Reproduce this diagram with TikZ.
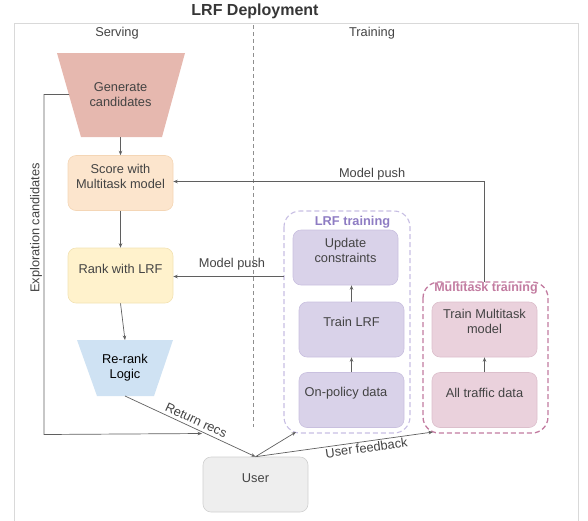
\documentclass[tikz,border=0pt]{standalone}
\usepackage{fontspec}
\setmainfont{Liberation Sans}
\usetikzlibrary{arrows.meta,calc}
\definecolor{txt}{HTML}{434343}
\definecolor{ln}{HTML}{5F5F5F}
\definecolor{frame}{HTML}{D9D9D9}
\definecolor{genfill}{HTML}{E6B8AF}
\definecolor{scorefill}{HTML}{FCE5CD}
\definecolor{scoreline}{HTML}{F4D6B6}
\definecolor{rankfill}{HTML}{FFF2CC}
\definecolor{rankline}{HTML}{F2E2B3}
\definecolor{rerankfill}{HTML}{CFE2F3}
\definecolor{lrffill}{HTML}{D9D2E9}
\definecolor{lrfline}{HTML}{C9C0DF}
\definecolor{lrfdash}{HTML}{C7BEE3}
\definecolor{lrflabel}{HTML}{8E7CC3}
\definecolor{mtfill}{HTML}{EAD1DC}
\definecolor{mtline}{HTML}{DCBFCC}
\definecolor{mtdash}{HTML}{C27BA0}
\definecolor{userfill}{HTML}{EEEEEE}
\definecolor{userline}{HTML}{D0D0D0}
\tikzset{
  box/.style={rounded corners=8pt, minimum width=105pt, minimum height=55pt, line width=0.6pt, inner sep=0pt},
  lbl/.style={font=\fontsize{12.8}{15}\selectfont, text=txt, align=center, inner sep=0pt},
  arr/.style={draw=ln, line width=0.7pt, -{Stealth[length=4.5pt,width=3.5pt]}},
  plain/.style={draw=ln, line width=0.7pt},
  edgelbl/.style={font=\fontsize{12.8}{15}\selectfont, text=txt, inner sep=1.5pt},
}
\begin{document}
\begin{tikzpicture}[x=1pt,y=-1pt]
\useasboundingbox (0,0) rectangle (588,520);
% frame
\draw[frame, line width=1pt] (14,530) -- (14,23) -- (578,23) -- (578,530);
\node[font=\fontsize{16}{19}\selectfont\bfseries, text=txt!80!black] (title) at (255,11) {LRF Deployment};
\node[lbl] (serving) at (117,33) {Serving};
\node[lbl] (training) at (372,33) {Training};
% divider
\coordinate (divT) at (253,25);
\coordinate (divB) at (253,427);
\draw[ln!70, line width=0.7pt, dash pattern=on 4pt off 3pt] (divT) -- (divB);

% Generate candidates (trapezoid)
\fill[genfill] (57,53) -- (185,53) -- (162,137) -- (81,137) -- cycle;
\node[lbl] (gen) at (120.5,95) {Generate\\candidates};
\coordinate (genB) at (120.5,137);
\coordinate (genL) at (69,94.5);

% Score
\node[box, fill=scorefill, draw=scoreline] (score) at (120.5,183) {};
\node[lbl] (scoret) at (120.5,176) {Score with\\Multitask model};
% Rank
\node[box, fill=rankfill, draw=rankline] (rank) at (120.5,275.5) {};
\node[lbl] (rankt) at (120.5,268.5) {Rank with LRF};
% Re-rank logic
\fill[rerankfill] (77,340) -- (173,340) -- (154,396) -- (97,396) -- cycle;
\node[lbl, text=black] (rerank) at (125,368) {Re-rank\\Logic};
\coordinate (rerankT) at (125,340);
\coordinate (rerankB) at (125,396);

% User
\node[box, fill=userfill, draw=userline] (user) at (255.5,484.5) {};
\node[lbl] (usert) at (255.5,478) {User};

% LRF training group
\draw[lrfdash, line width=1.1pt, dash pattern=on 5pt off 3pt, rounded corners=16pt] (284,211) rectangle (410,433);
\node[coordinate] (lrfL) at (284,276.5) {};
\node[coordinate] (lrfB) at (296,432) {};
\node[font=\fontsize{12.8}{15}\selectfont\bfseries, text=lrflabel] (lrflbl) at (352.5,222) {LRF training};
\node[box, fill=lrffill, draw=lrfline] (upd) at (345.5,257.5) {};
\node[lbl] (updt) at (345.5,250.5) {Update\\constraints};
\node[box, fill=lrffill, draw=lrfline] (trlrf) at (351.5,329.5) {};
\node[lbl] (trlrft) at (351.5,322) {Train LRF};
\node[box, fill=lrffill, draw=lrfline] (onp) at (351.5,400) {};
\node[lbl] (onpt) at (346,393) {On-policy data};

% Multitask training group
\draw[mtdash, line width=1.3pt, dash pattern=on 5pt off 3pt, rounded corners=16pt] (423,282) rectangle (548,433);
\node[coordinate] (mtT) at (484,282) {};
\node[coordinate] (mtB) at (433,432) {};
\node[font=\fontsize{12.5}{15}\selectfont\bfseries, text=mtdash] (mtlbl) at (486,288.5) {Multitask training};
\node[box, fill=mtfill, draw=mtline] (trmt) at (484.5,329.5) {};
\node[lbl] (trmtt) at (484.5,321.5) {Train Multitask\\model};
\node[box, fill=mtfill, draw=mtline] (alltr) at (484.5,400) {};
\node[lbl] (alltrt) at (484.5,393) {All traffic data};

% connectors
\draw[arr] (genB) -- (score.north);
\draw[arr] (score.south) -- (rank.north);
\draw[arr] (rank.south) -- (rerankT);
\draw[arr] (rerankB) -- node[edgelbl, above, sloped, pos=0.52, yshift=1.5pt] {Return recs} (user.north);
\coordinate (expl1) at (44,94.5);
\coordinate (expl2) at (44,434.5);
\coordinate (explE) at (202,433.5);
\draw[arr] (genL) -- (expl1) -- (expl2) -- (explE);
\node[edgelbl, rotate=90] (expllbl) at (36,228) {Exploration candidates};
\draw[arr] (user.north) -- (lrfB);
\draw[arr] (user.north) -- node[edgelbl, below, sloped, pos=0.62] {User feedback} (mtB);
\draw[arr] (trlrf.north) -- (upd.south -| trlrf.north);
\draw[arr] (onp.north) -- (trlrf.south);
\draw[arr] (alltr.north) -- (trmt.south);
\draw[arr] (lrfL) -- node[edgelbl, above, pos=0.47, yshift=5pt] {Model push} (lrfL -| rank.east);
\coordinate (mpC) at (484,181.5);
\draw[arr] (mtT) -- (mpC) -- node[edgelbl, above, pos=0.36] {Model push} (mpC -| score.east);
\end{tikzpicture}
\end{document}
